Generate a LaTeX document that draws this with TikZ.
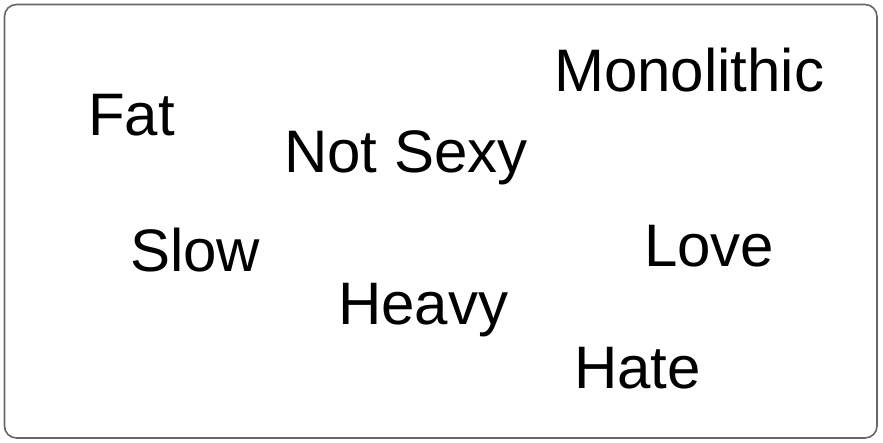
\documentclass[tikz,border=0pt]{standalone}
\usepackage{fontspec}
\setmainfont{Liberation Sans}
\begin{document}
\begin{tikzpicture}[x=1pt,y=-1pt,
  word/.style={anchor=base west,inner sep=0pt,font=\fontsize{60}{68}\selectfont}]
\useasboundingbox (0,0) rectangle (883,443);
\draw[line width=1.6pt,draw=black!60,rounded corners=12pt] (4.5,4.5) rectangle (877,438);
\node[word] (mono) at (554,92) {Monolithic};
\node[word] (fat) at (88,136) {Fat};
\node[word] (sexy) at (284,173) {Not Sexy};
\node[word] (slow) at (130,272) {Slow};
\node[word] (love) at (644,267) {Love};
\node[word] (heavy) at (338,325) {Heavy};
\node[word] (hate) at (574,388) {Hate};
\end{tikzpicture}
\end{document}
